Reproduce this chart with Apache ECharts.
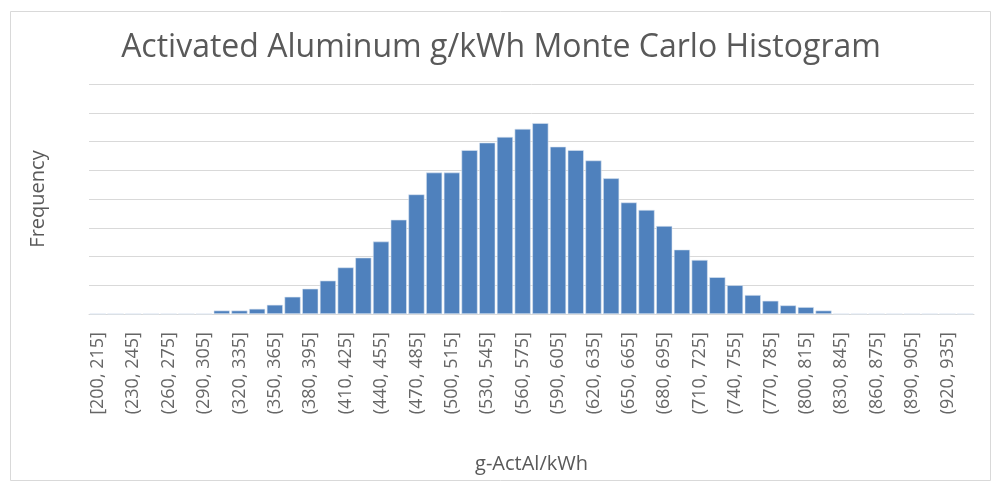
<!DOCTYPE html>
<html lang="en">
<head>
  <meta charset="UTF-8" />
  <title>Histogram</title>
  <script src="https://cdn.jsdelivr.net/npm/echarts@6/dist/echarts.min.js"></script>
  <style>
    html, body { margin: 0; padding: 0; background: #fff; }
  </style>
</head>
<body>
  <div id="main" style="width: 1002px;height:489px;"></div>
  <script type="text/javascript">
    // bin edges, width 15, from 200 upward (last bin has no label shown)
    var binStarts = [200, 215, 230, 245, 260, 275, 290, 305, 320, 335,
      350, 365, 380, 395, 410, 425, 440, 455, 470, 485,
      500, 515, 530, 545, 560, 575, 590, 605, 620, 635,
      650, 665, 680, 695, 710, 725, 740, 755, 770, 785,
      800, 815, 830, 845, 860, 875, 890, 905, 920, 935]

    // frequencies
    var frequency = [0, 0, 0, 0, 0, 0, 0, 6, 6, 9,
      16, 30, 44, 58, 81, 98, 126, 164, 208, 246,
      246, 285, 298, 308, 322, 332, 291, 285, 267, 236,
      194, 181, 153, 112, 94, 64, 50, 33, 23, 15,
      12, 6, 0, 0, 0, 0, 0, 0, 0, 0]

    var categories = binStarts.map(function (s, i) {
      return (i === 0 ? '[' : '(') + s + ', ' + (s + 15) + ']'
    })

    var myChart = echarts.init(document.getElementById('main'))

    var option = {
      backgroundColor: '#fff',
      animation: false,
      title: {
        text: 'Activated Aluminum g/kWh Monte Carlo Histogram',
        left: 'center',
        top: 27,
        textStyle: {
          fontFamily: 'Open Sans',
          fontWeight: 'normal',
          fontSize: 32,
          color: '#595959'
        }
      },
      graphic: [{
        type: 'rect',
        shape: { x: 10.5, y: 11.5, width: 980, height: 469 },
        style: { fill: 'none', stroke: '#d9d9d9', lineWidth: 1 },
        z: -1
      }],
      grid: {
        left: 89,
        right: 28,
        top: 84,
        bottom: 175
      },
      xAxis: {
        type: 'category',
        data: categories,
        name: 'g-ActAl/kWh',
        nameLocation: 'middle',
        nameGap: 140,
        nameTextStyle: { fontFamily: 'Open Sans', fontSize: 20, color: '#595959' },
        axisLine: { lineStyle: { color: '#d9d9d9' } },
        axisTick: { show: false },
        axisLabel: {
          interval: 1,
          rotate: 90,
          margin: 18,
          fontFamily: 'Open Sans',
          fontSize: 18,
          color: '#666666'
        }
      },
      yAxis: {
        type: 'value',
        min: 0,
        max: 400,
        interval: 50,
        name: 'Frequency',
        nameLocation: 'middle',
        nameGap: 41,
        nameTextStyle: { fontFamily: 'Open Sans', fontSize: 20, color: '#595959' },
        axisLabel: { show: false },
        axisLine: { show: false },
        axisTick: { show: false },
        splitLine: { lineStyle: { color: '#d9d9d9', width: 1 } }
      },
      series: [{
        name: 'Frequency',
        type: 'bar',
        data: frequency,
        barCategoryGap: '9%',
        itemStyle: {
          color: '#4f81bd',
          borderColor: '#dce6f2',
          borderWidth: 0.6
        }
      }]
    }

    myChart.setOption(option)
  </script>
</body>
</html>
